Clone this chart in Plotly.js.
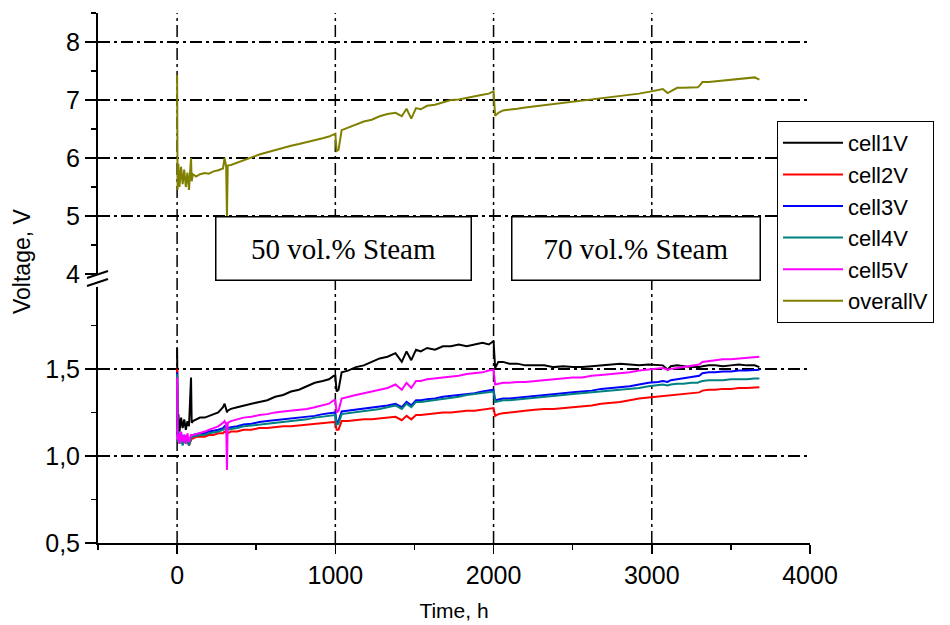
<!DOCTYPE html>
<html>
<head>
<meta charset="utf-8">
<script src="https://cdn.plot.ly/plotly-3.0.1.min.js"></script>
<style>html,body{margin:0;padding:0;background:#fff;}#chart{width:950px;height:625px;}</style>
</head>
<body>
<div id="chart"></div>
<script>
// Time, h
const timeH = [0,3,8,15,25,35,45,55,65,75,88,92,100,120,145,175,200,230,260,290,300,310,315,320,340,380,420,470,520,570,620,670,720,770,820,870,920,960,990,1000,1008,1020,1040,1080,1130,1180,1230,1280,1330,1380,1420,1450,1480,1510,1540,1580,1630,1680,1730,1780,1830,1880,1930,1970,2000,2010,2030,2060,2100,2150,2200,2260,2320,2380,2440,2500,2560,2620,2680,2740,2800,2860,2920,2980,3040,3070,3100,3120,3160,3200,3250,3290,3300,3320,3360,3400,3450,3500,3550,3600,3650,3680];

const overallV = [7.43,5.45,5.90,5.50,5.85,5.55,5.80,5.50,5.75,5.45,6.00,5.60,5.72,5.68,5.72,5.74,5.73,5.77,5.79,5.82,6.00,5.85,5.00,5.87,5.88,5.92,5.97,6.02,6.06,6.10,6.14,6.18,6.21,6.24,6.27,6.30,6.34,6.37,6.40,6.42,6.12,6.14,6.48,6.52,6.58,6.63,6.66,6.72,6.76,6.78,6.72,6.85,6.68,6.86,6.84,6.90,6.92,6.96,7.00,7.01,7.04,7.06,7.09,7.11,7.15,6.73,6.78,6.82,6.83,6.85,6.87,6.89,6.90,6.92,6.94,6.96,6.98,7.00,7.03,7.05,7.07,7.09,7.11,7.14,7.17,7.19,7.12,7.15,7.21,7.21,7.21,7.22,7.24,7.31,7.31,7.32,7.33,7.34,7.36,7.37,7.39,7.35];

const cell1V = [1.62,1.17,1.24,1.14,1.22,1.16,1.21,1.15,1.20,1.17,1.45,1.19,1.20,1.21,1.22,1.22,1.23,1.24,1.25,1.28,1.30,1.27,1.25,1.26,1.27,1.28,1.29,1.30,1.31,1.32,1.34,1.35,1.37,1.38,1.40,1.42,1.43,1.44,1.46,1.46,1.37,1.38,1.48,1.49,1.51,1.52,1.54,1.56,1.57,1.59,1.54,1.60,1.55,1.61,1.60,1.62,1.61,1.63,1.63,1.64,1.63,1.64,1.65,1.64,1.66,1.505,1.54,1.54,1.53,1.53,1.52,1.52,1.52,1.51,1.515,1.51,1.51,1.515,1.52,1.525,1.53,1.525,1.52,1.525,1.52,1.52,1.495,1.515,1.52,1.515,1.51,1.51,1.51,1.515,1.52,1.52,1.515,1.52,1.525,1.52,1.52,1.51];

const cell2V = [1.50,1.10,1.12,1.08,1.11,1.07,1.10,1.08,1.09,1.06,1.09,1.10,1.10,1.11,1.11,1.11,1.12,1.12,1.13,1.13,1.14,1.13,1.13,1.13,1.14,1.14,1.15,1.15,1.16,1.16,1.165,1.17,1.17,1.175,1.18,1.185,1.19,1.19,1.195,1.19,1.15,1.15,1.20,1.20,1.205,1.21,1.21,1.215,1.22,1.225,1.205,1.23,1.21,1.235,1.235,1.24,1.245,1.25,1.25,1.255,1.26,1.26,1.265,1.27,1.275,1.23,1.24,1.245,1.25,1.255,1.26,1.265,1.27,1.27,1.275,1.28,1.285,1.29,1.30,1.305,1.31,1.32,1.33,1.335,1.34,1.345,1.345,1.35,1.35,1.355,1.36,1.36,1.365,1.375,1.38,1.38,1.385,1.385,1.39,1.39,1.395,1.395];

const cell3V = [1.48,1.11,1.14,1.09,1.13,1.09,1.12,1.10,1.11,1.08,1.11,1.12,1.12,1.125,1.13,1.13,1.14,1.145,1.15,1.16,1.17,1.16,1.15,1.16,1.165,1.17,1.18,1.185,1.195,1.20,1.205,1.21,1.215,1.22,1.225,1.23,1.24,1.245,1.25,1.25,1.19,1.20,1.255,1.26,1.265,1.27,1.28,1.285,1.29,1.30,1.28,1.31,1.29,1.32,1.32,1.325,1.33,1.34,1.345,1.35,1.355,1.36,1.37,1.375,1.38,1.32,1.325,1.33,1.33,1.335,1.34,1.345,1.35,1.355,1.36,1.365,1.37,1.375,1.385,1.39,1.395,1.40,1.41,1.42,1.425,1.43,1.425,1.435,1.44,1.445,1.45,1.455,1.46,1.475,1.48,1.48,1.485,1.485,1.49,1.49,1.495,1.495];

const cell4V = [1.47,1.08,1.12,1.07,1.11,1.06,1.10,1.07,1.09,1.06,1.10,1.11,1.11,1.115,1.12,1.12,1.13,1.135,1.14,1.15,1.16,1.15,1.14,1.15,1.155,1.16,1.17,1.175,1.18,1.185,1.19,1.195,1.20,1.205,1.21,1.22,1.225,1.23,1.235,1.235,1.18,1.185,1.24,1.245,1.25,1.255,1.265,1.27,1.28,1.29,1.27,1.30,1.28,1.31,1.31,1.315,1.32,1.33,1.335,1.34,1.35,1.355,1.36,1.365,1.37,1.31,1.315,1.32,1.32,1.325,1.33,1.335,1.34,1.345,1.35,1.355,1.36,1.365,1.37,1.375,1.38,1.385,1.39,1.40,1.405,1.41,1.405,1.41,1.415,1.415,1.42,1.42,1.425,1.43,1.435,1.435,1.435,1.44,1.44,1.44,1.445,1.445];

const cell5V = [1.45,1.09,1.13,1.07,1.14,1.08,1.12,1.07,1.13,1.08,1.12,1.12,1.12,1.125,1.13,1.14,1.15,1.16,1.17,1.19,1.20,1.18,0.92,1.19,1.20,1.21,1.22,1.225,1.235,1.24,1.25,1.255,1.26,1.265,1.27,1.28,1.29,1.30,1.32,1.32,1.25,1.26,1.33,1.34,1.35,1.36,1.37,1.38,1.39,1.41,1.38,1.42,1.39,1.43,1.43,1.44,1.445,1.45,1.455,1.46,1.47,1.475,1.48,1.49,1.495,1.41,1.415,1.42,1.42,1.425,1.425,1.43,1.435,1.44,1.445,1.45,1.45,1.46,1.465,1.47,1.475,1.48,1.49,1.495,1.50,1.505,1.495,1.50,1.505,1.51,1.515,1.52,1.525,1.54,1.545,1.55,1.555,1.555,1.56,1.565,1.57,1.57];

const seriesNames = ['cell1V','cell2V','cell3V','cell4V','cell5V','overallV'];
const seriesColors = ['#000000','#ff0000','#0000ff','#008080','#ff00ff','#808000'];
const gridX = [0,1000,2000,3000];
const boxLabels = ['50 vol.% Steam','70 vol.% Steam'];

const sans = 'Liberation Sans, Arial, sans-serif';
const serif = 'Liberation Serif, Times New Roman, serif';
const gridDash = '12px,4px,3px,4px';

const lowerData = [cell1V, cell2V, cell3V, cell4V, cell5V];
const traces = [];
lowerData.forEach((ys, i) => {
  traces.push({x: timeH, y: ys, type: 'scatter', mode: 'lines', name: seriesNames[i],
    xaxis: 'x', yaxis: 'y', line: {color: seriesColors[i], width: 2}});
});
traces.push({x: timeH, y: overallV, type: 'scatter', mode: 'lines', name: seriesNames[5],
  xaxis: 'x', yaxis: 'y2', line: {color: seriesColors[5], width: 2}});

const px2x = p => (p - 98) / 712;
const py2y = p => (543 - p) / 530;

const shapes = gridX.map(v => ({type: 'line', xref: 'x', yref: 'paper', x0: v, x1: v, y0: 0, y1: 1,
  layer: 'below', line: {color: '#000', width: 1.5, dash: gridDash}}));
// axis break marks
shapes.push({type: 'line', xref: 'paper', yref: 'paper', x0: px2x(87), x1: px2x(108), y0: py2y(278), y1: py2y(271), line: {color: '#000', width: 2}});
shapes.push({type: 'line', xref: 'paper', yref: 'paper', x0: px2x(87), x1: px2x(108), y0: py2y(286), y1: py2y(279), line: {color: '#000', width: 2}});

const yCommon = {
  showline: true, linecolor: '#000', linewidth: 2, ticks: 'outside', ticklen: 11, tickwidth: 1.5, tickcolor: '#000',
  showgrid: true, gridcolor: '#000', gridwidth: 1.5, griddash: gridDash, zeroline: false,
  tickfont: {family: sans, size: 25, color: '#000'}, anchor: 'x'
};

const layout = {
  width: 950, height: 625,
  margin: {l: 98, r: 140, t: 13, b: 82, autoexpand: false},
  paper_bgcolor: '#fff', plot_bgcolor: 'rgba(0,0,0,0)',
  separators: ', ',
  font: {family: sans, color: '#000'},
  xaxis: {
    range: [-500, 4000], domain: [0, 1], anchor: 'y',
    showline: true, linecolor: '#000', linewidth: 2,
    ticks: 'outside', ticklen: 9, tickwidth: 1.5, tickcolor: '#000',
    tick0: 0, dtick: 1000,
    minor: {dtick: 500, ticks: 'outside', ticklen: 5, tickwidth: 1.5, tickcolor: '#000', showgrid: false},
    showgrid: false, zeroline: false,
    tickfont: {family: sans, size: 25, color: '#000'},
    title: {text: 'Time, h', font: {family: sans, size: 21, color: '#000'}, standoff: 15}
  },
  yaxis: Object.assign({}, yCommon, {
    domain: [0, 0.483], range: [0.5, 1.97], tick0: 0.5, dtick: 0.5, tickformat: '.1f',
    minor: {dtick: 0.25, ticks: 'outside', ticklen: 5, tickwidth: 1.5, tickcolor: '#000', showgrid: false}
  }),
  yaxis2: Object.assign({}, yCommon, {
    domain: [0.5075, 1], range: [4, 8.5], tick0: 4, dtick: 1,
    minor: {dtick: 0.5, ticks: 'outside', ticklen: 5, tickwidth: 1.5, tickcolor: '#000', showgrid: false}
  }),
  showlegend: true,
  legend: {
    x: px2x(777), y: py2y(121), xanchor: 'left', yanchor: 'top',
    bgcolor: '#fff', bordercolor: '#000', borderwidth: 1,
    font: {family: sans, size: 22, color: '#000'}, tracegroupgap: 0, itemwidth: 60,
    entrywidth: 190, entrywidthmode: 'pixels'
  },
  shapes: shapes,
  annotations: [
    {text: boxLabels[0], xref: 'paper', yref: 'paper', x: px2x(343.5), y: py2y(248.5), xanchor: 'center', yanchor: 'middle',
      showarrow: false, font: {family: serif, size: 29, color: '#000'},
      bgcolor: '#fff', bordercolor: '#000', borderwidth: 1.5, borderpad: 1, width: 252, height: 60},
    {text: boxLabels[1], xref: 'paper', yref: 'paper', x: px2x(635.5), y: py2y(248.5), xanchor: 'center', yanchor: 'middle',
      showarrow: false, font: {family: serif, size: 29, color: '#000'},
      bgcolor: '#fff', bordercolor: '#000', borderwidth: 1.5, borderpad: 1, width: 245, height: 60},
    {text: 'Voltage, V', xref: 'paper', yref: 'paper', x: px2x(22), y: py2y(261), xanchor: 'center', yanchor: 'middle',
      textangle: -90, showarrow: false, font: {family: sans, size: 23, color: '#000'}}
  ]
};

Plotly.newPlot('chart', traces, layout, {displayModeBar: false, staticPlot: true});
</script>
</body>
</html>
